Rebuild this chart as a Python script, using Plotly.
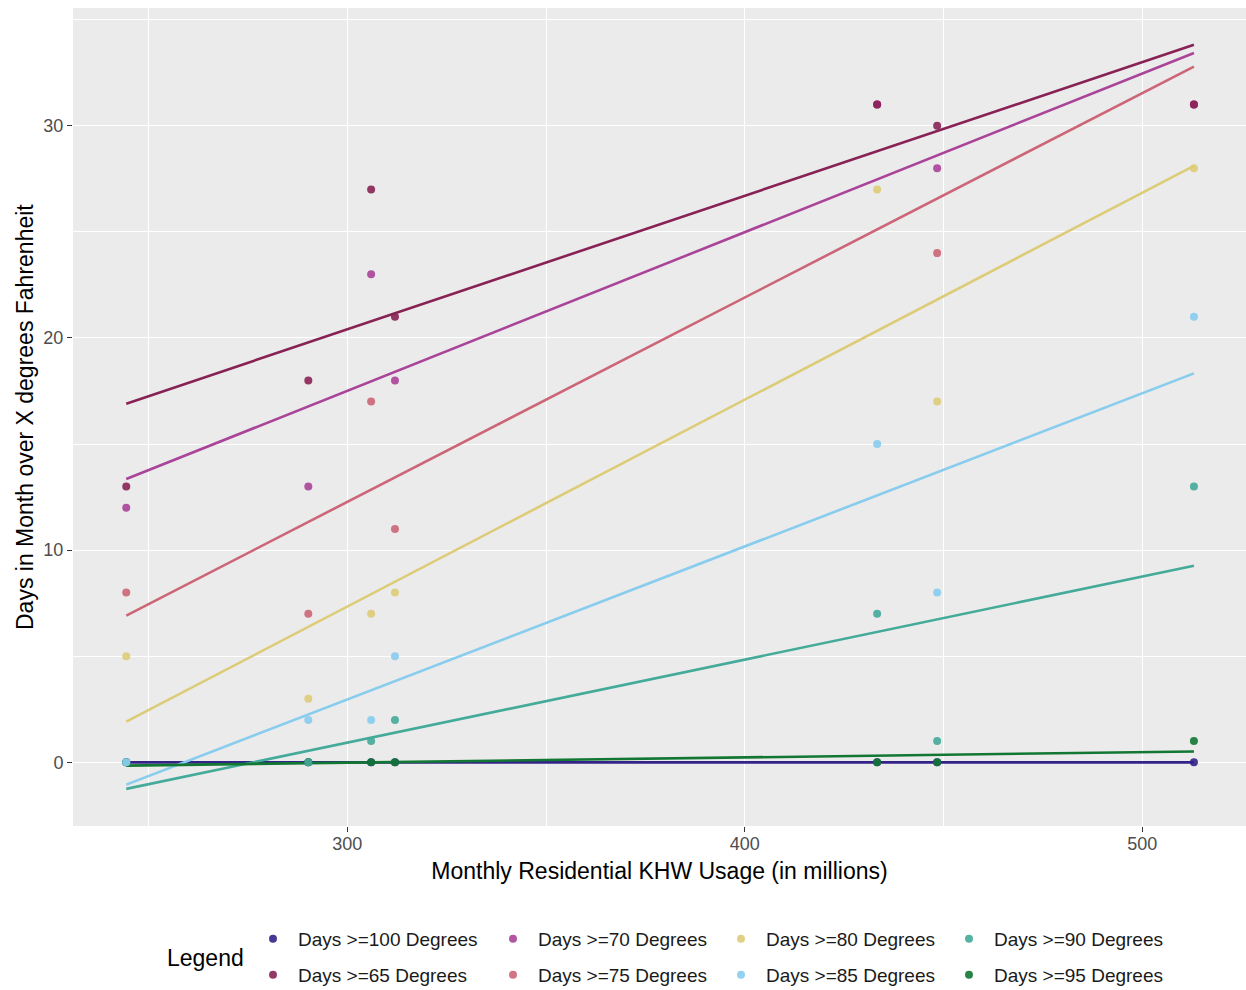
import numpy as np
import plotly.graph_objects as go

# Monthly residential usage (millions of KWh) for each observed month
usage = [244.4, 290.2, 306.0, 312.0, 433.3, 448.4, 513.0]

# Days in the month at or above each temperature threshold
days_65 = [13, 18, 27, 21, 31, 30, 31]
days_70 = [12, 13, 23, 18, 31, 28, 31]
days_75 = [8, 7, 17, 11, 31, 24, 31]
days_80 = [5, 3, 7, 8, 27, 17, 28]
days_85 = [0, 2, 2, 5, 15, 8, 21]
days_90 = [0, 0, 1, 2, 7, 1, 13]
days_95 = [0, 0, 0, 0, 0, 0, 1]
days_100 = [0, 0, 0, 0, 0, 0, 0]

series_names = [
    "Days >=100 Degrees", "Days >=65 Degrees", "Days >=70 Degrees", "Days >=75 Degrees",
    "Days >=80 Degrees", "Days >=85 Degrees", "Days >=90 Degrees", "Days >=95 Degrees",
]
series_values = [days_100, days_65, days_70, days_75, days_80, days_85, days_90, days_95]
series_colors = ["#332288", "#882255", "#AA4499", "#CC6677",
                 "#DDCC77", "#88CCEE", "#44AA99", "#117733"]

# legend slot (column, row) for each series
legend_slots = [(0, 0), (0, 1), (1, 0), (1, 1), (2, 0), (2, 1), (3, 0), (3, 1)]
legend_col_x = [248, 488, 716, 944]
legend_row_y = [939, 975]

# points are stacked so that lower thresholds sit on top
point_draw_order = [0, 7, 6, 5, 4, 3, 2, 1]

W, H = 1246, 990
FONT = "Liberation Sans, Arial, sans-serif"
L, R, T, B = 73, 0, 8, 164

fig = go.Figure()
x_arr = np.array(usage)
x_line = np.array([x_arr.min(), x_arr.max()])

# least-squares trend line for each threshold
for name, vals, col in zip(series_names, series_values, series_colors):
    slope, intercept = np.polyfit(x_arr, np.array(vals, dtype=float), 1)
    fig.add_trace(go.Scatter(
        x=x_line, y=slope * x_line + intercept, mode="lines",
        line=dict(color=col, width=2.6), showlegend=False, hoverinfo="skip",
    ))

layout_legends = {}
for i in point_draw_order:
    name, vals, col = series_names[i], series_values[i], series_colors[i]
    key = "legend" if i == 0 else f"legend{i + 1}"
    fig.add_trace(go.Scatter(
        x=usage, y=vals, mode="markers", name=name,
        marker=dict(color=col, size=8, opacity=0.9),
        legend=key,
    ))
    c, r = legend_slots[i]
    layout_legends[key] = dict(
        x=legend_col_x[c] / W, y=1 - legend_row_y[r] / H,
        xref="container", yref="container",
        xanchor="left", yanchor="middle",
        bgcolor="rgba(0,0,0,0)", borderwidth=0,
        font=dict(family=FONT, size=19, color="#1A1A1A"),
        itemwidth=40,
    )

plot_w = W - L - R
plot_h = H - T - B

fig.add_annotation(
    text="Legend", xref="paper", yref="paper", showarrow=False,
    x=(165 - L) / plot_w, xanchor="left",
    y=-(958 - (H - B)) / plot_h, yanchor="middle",
    font=dict(family=FONT, size=23, color="#000000"),
)
fig.add_annotation(
    text="Days in Month over X degrees Fahrenheit", xref="paper", yref="paper",
    showarrow=False, textangle=-90,
    x=(25 - L) / plot_w, xanchor="center", y=0.5, yanchor="middle",
    font=dict(family=FONT, size=23, color="#000000"),
)

axis_common = dict(
    showline=False, zeroline=False,
    showgrid=True, gridcolor="#FFFFFF", gridwidth=1.4,
    ticks="outside", ticklen=5, tickwidth=1.1, tickcolor="#333333",
    tickfont=dict(family=FONT, size=18, color="#4D4D4D"),
)

fig.update_layout(
    width=W, height=H,
    margin=dict(l=L, r=R, t=T, b=B, autoexpand=False),
    paper_bgcolor="#FFFFFF", plot_bgcolor="#EBEBEB",
    font=dict(family=FONT),
    xaxis=dict(
        range=[231.0, 526.1], tickvals=[300, 400, 500], ticklabelstandoff=-4,
        minor=dict(tickvals=[250, 350, 450], showgrid=True, gridcolor="#FFFFFF", gridwidth=0.7),
        title=dict(text="Monthly Residential KHW Usage (in millions)", standoff=10,
                   font=dict(family=FONT, size=23, color="#000000")),
        **axis_common,
    ),
    yaxis=dict(
        range=[-3.0, 35.55], tickvals=[0, 10, 20, 30],
        minor=dict(tickvals=[-5, 5, 15, 25, 35], showgrid=True, gridcolor="#FFFFFF", gridwidth=0.7),
        **axis_common,
    ),
    **layout_legends,
)

fig.write_html("out.html")
